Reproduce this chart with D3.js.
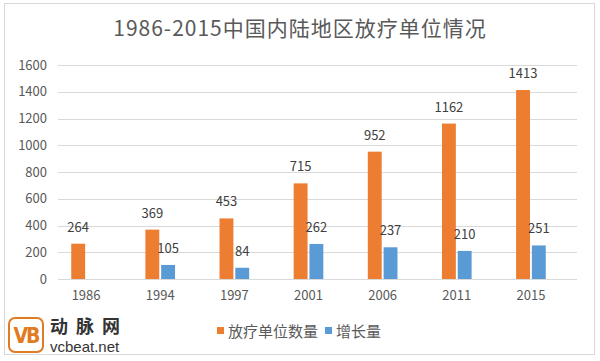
<!DOCTYPE html>
<html><head><meta charset="utf-8">
<script src="https://cdn.jsdelivr.net/npm/d3@7"></script>
<style>
html,body{margin:0;padding:0;background:#fff;}
svg{display:block;font-family:"Noto Sans CJK SC","Noto Sans",sans-serif;}
</style></head>
<body><svg id="c" width="600" height="361"></svg>
<script>
const title = "1986-2015中国内陆地区放疗单位情况";
const categories = ["1986","1994","1997","2001","2006","2011","2015"];
const unitCount = [264,369,453,715,952,1162,1413];
const growth = [null,105,84,262,237,210,251];
const seriesNames = ["放疗单位数量","增长量"];
const yTicks = [0,200,400,600,800,1000,1200,1400,1600];
const colors = ["#ED7D31","#5B9BD5"];

const svg = d3.select("#c");
svg.append("rect").attr("x",4.5).attr("y",3.5).attr("width",590).attr("height",351)
  .attr("fill","#fff").attr("stroke","#D9D9D9");

svg.append("text").attr("x",300).attr("y",36).attr("text-anchor","middle")
  .attr("font-size",21).attr("letter-spacing",1).attr("fill","#595959").text(title);

const y = d3.scaleLinear().domain([0,1600]).range([279,65]);
const x = d3.scaleBand().domain(categories).range([49,568]).paddingInner(0.6).paddingOuter(0.3);
const xs = d3.scaleBand().domain([0,1]).range([0,x.bandwidth()]).paddingInner(0.12);

// gridlines
svg.append("g").selectAll("line").data(yTicks).join("line")
  .attr("x1",58).attr("x2",577).attr("y1",d=>Math.round(y(d))+0.5).attr("y2",d=>Math.round(y(d))+0.5)
  .attr("stroke","#D9D9D9").attr("stroke-width",1);

// y axis labels
const ya = svg.append("g").attr("transform","translate(52,0)")
  .call(d3.axisLeft(y).tickValues(yTicks).tickFormat(d3.format("d")).tickSize(0).tickPadding(5));
ya.select(".domain").remove();
ya.selectAll("text").attr("font-size",13).attr("fill","#595959").attr("font-family","'Noto Sans CJK SC',sans-serif");

// x axis labels
const xa = svg.append("g").attr("transform","translate(0,288)")
  .call(d3.axisBottom(x).tickSize(0).tickPadding(3));
xa.select(".domain").remove();
xa.selectAll("text").attr("font-size",13).attr("fill","#595959").attr("font-family","'Noto Sans CJK SC',sans-serif");

const series = [unitCount, growth];
series.forEach((vals,si)=>{
  const data = categories.map((c,i)=>({c, v: vals[i]})).filter(d=>d.v!=null);
  const g = svg.append("g");
  g.selectAll("rect").data(data).join("rect")
    .attr("x",d=>x(d.c)+xs(si)).attr("width",xs.bandwidth())
    .attr("y",d=>y(d.v)).attr("height",d=>y(0)-y(d.v))
    .attr("fill",colors[si]);
  g.selectAll("text").data(data).join("text")
    .attr("x",d=>x(d.c)+xs(si)+xs.bandwidth()/2).attr("y",d=>y(d.v)-12)
    .attr("text-anchor","middle").attr("font-size",13).attr("fill","#404040")
    .text(d=>d.v);
});

// legend
const lg = svg.append("g").attr("transform","translate(217,0)");
lg.append("rect").attr("x",0).attr("y",327).attr("width",7).attr("height",7).attr("fill",colors[0]);
lg.append("text").attr("x",11).attr("y",337).attr("font-size",15).attr("fill","#595959").text(seriesNames[0]);
lg.append("rect").attr("x",108).attr("y",327).attr("width",7).attr("height",7).attr("fill",colors[1]);
lg.append("text").attr("x",119).attr("y",337).attr("font-size",15).attr("fill","#595959").text(seriesNames[1]);

// logo
const logo = svg.append("g");
logo.append("rect").attr("x",9).attr("y",318).attr("width",34).attr("height",34).attr("rx",6)
  .attr("fill","#fff").attr("stroke","#E07B22").attr("stroke-width",2);
logo.append("text").attr("x",26).attr("y",343).attr("text-anchor","middle")
  .attr("font-size",21).attr("font-weight","bold").attr("fill","#E07B22")
  .attr("font-family","'DejaVu Sans Condensed','DejaVu Sans',sans-serif").attr("letter-spacing",-2).text("VB");
logo.append("text").attr("x",50).attr("y",333).attr("font-size",18).attr("font-weight","bold").attr("fill","#333")
  .attr("letter-spacing",8).text("动脉网");
logo.append("text").attr("x",50).attr("y",352).attr("font-size",15).attr("fill","#333")
  .attr("font-family","'Liberation Sans',sans-serif").text("vcbeat.net");
</script></body></html>
